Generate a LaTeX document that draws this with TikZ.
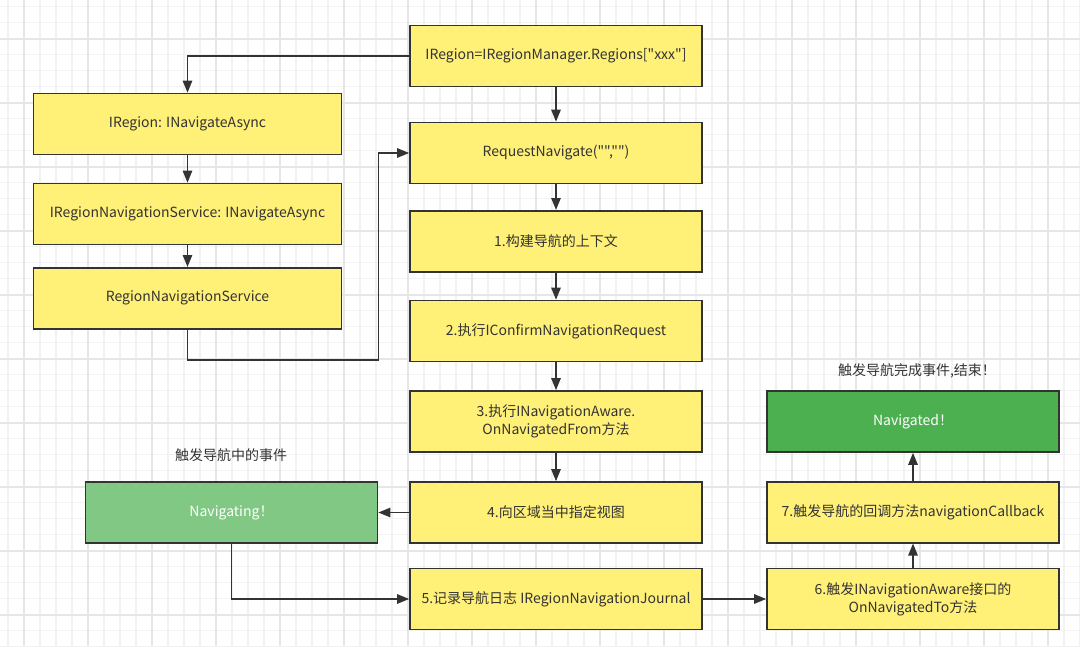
\documentclass[tikz,border=0pt]{standalone}
\usepackage{fontspec}
\newfontfamily\yh{Noto Sans CJK SC}
\usetikzlibrary{arrows.meta}
\definecolor{boxyellow}{RGB}{255,240,120}
\definecolor{navgreen}{RGB}{128,200,131}
\definecolor{donegreen}{RGB}{76,176,80}
\definecolor{edge}{RGB}{51,51,51}
\definecolor{txt}{RGB}{51,51,51}
\definecolor{gridminor}{RGB}{242,242,242}
\definecolor{gridmajor}{RGB}{230,230,230}
\tikzset{
  box/.style={draw=edge, line width=1.2pt, fill=boxyellow, text=txt,
    minimum width={292*0.75pt}, minimum height={61*0.75pt}, inner sep=0pt,
    align=center, font=\yh\fontsize{10.5pt}{13.5pt}\selectfont},
  leftbox/.style={box, minimum width={308*0.75pt}},
  greenbox/.style={box, fill=navgreen, text=white},
  donebox/.style={box, fill=donegreen, text=white},
  lbl/.style={text=txt, inner sep=0pt, font=\yh\fontsize{10.5pt}{13.5pt}\selectfont},
  arr/.style={draw=edge, line width=1.2pt, -{Triangle[length=9pt,width=7pt]}},
}
\begin{document}
\begin{tikzpicture}[x=0.75pt,y=-0.75pt]
\useasboundingbox (0,0) rectangle (1080,646);
\fill[white] (0,0) rectangle (1080,646);
% grid
\foreach \k in {0,...,67} {
  \draw[gridminor, line width=1.1pt] ({8+16*\k},0) -- ({8+16*\k},646);
}
\foreach \k in {0,...,40} {
  \draw[gridminor, line width=1.1pt] (0,{6.7+16*\k}) -- (1080,{6.7+16*\k});
}
\foreach \k in {0,...,16} {
  \draw[gridmajor, line width=1.1pt] ({24+64*\k},0) -- ({24+64*\k},646);
}
\foreach \k in {0,...,9} {
  \draw[gridmajor, line width=1.1pt] (0,{39+64*\k}) -- (1080,{39+64*\k});
}
% middle column
\node[box] (top) at (556,56) {IRegion=IRegionManager.Regions["xxx"]};
\node[box] (req) at (556,153) {RequestNavigate("","")};
\node[box] (b1) at (556,241.3) {1.构建导航的上下文};
\node[box] (b2) at (556,331) {2.执行IConfirmNavigationRequest};
\node[box] (b3) at (556,421.5) {3.执行INavigationAware.\\OnNavigatedFrom方法};
\node[box] (b4) at (556,512.5) {4.向区域当中指定视图};
\node[box] (b5) at (556,599) {5.记录导航日志 IRegionNavigationJournal};
% left column
\node[leftbox] (ir) at (187.5,124) {IRegion: INavigateAsync};
\node[leftbox] (irns) at (187.5,214) {IRegionNavigationService: INavigateAsync};
\node[leftbox] (rns) at (187.5,298.3) {RegionNavigationService};
\node[greenbox] (nav) at (231.5,512.5) {Navigating！};
\node[lbl] (navlbl) at (231,455) {触发导航中的事件};
% right column
\node[box] (b6) at (913,599) {6.触发INavigationAware接口的\\OnNavigatedTo方法};
\node[box] (b7) at (913,512.2) {7.触发导航的回调方法navigationCallback};
\node[donebox] (done) at (913,421.5) {Navigated！};
\node[lbl] (donelbl) at (917,371) {触发导航完成事件,结束！};
% connectors
\coordinate (c1) at (378.3,360);
\draw[arr] (top.west) -| (ir.north);
\draw[arr] (ir) -- (irns);
\draw[arr] (irns) -- (rns);
\draw[arr] (rns.south) |- (c1) |- (req.west);
\draw[arr] (top) -- (req);
\draw[arr] (req) -- (b1);
\draw[arr] (b1) -- (b2);
\draw[arr] (b2) -- (b3);
\draw[arr] (b3) -- (b4);
\draw[arr] (b4) -- (nav);
\draw[arr] (nav.south) |- (b5.west);
\draw[arr] (b5) -- (b6);
\draw[arr] (b6) -- (b7);
\draw[arr] (b7) -- (done);
\end{tikzpicture}
\end{document}
